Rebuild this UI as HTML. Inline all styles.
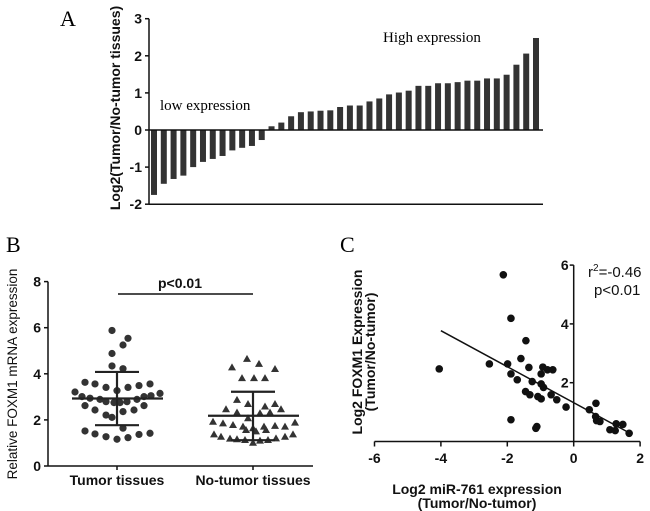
<!DOCTYPE html>
<html><head><meta charset="utf-8"><style>
html,body{margin:0;padding:0;background:#fff;}
svg{display:block;font-family:"Liberation Sans",Arial,sans-serif;}
.tk{font-weight:bold;font-size:14px;fill:#111;}
</style></head><body>
<svg id="fig" width="650" height="511" viewBox="0 0 650 511" xmlns="http://www.w3.org/2000/svg">
<g id="pa"></g>
<g id="pb"></g>
<g id="pc"></g>
</svg>
<script>
// Panel A data
const aValues=[-1.75,-1.45,-1.32,-1.23,-1.0,-0.86,-0.78,-0.7,-0.55,-0.48,-0.43,-0.27,0.1,0.2,0.37,0.48,0.5,0.52,0.53,0.62,0.66,0.66,0.77,0.85,0.96,1.01,1.06,1.19,1.19,1.26,1.26,1.29,1.33,1.33,1.39,1.39,1.49,1.76,2.06,2.48];
const aTicks=[3,2,1,0,-1,-2];
// Panel B data
const tumorVals=[5.88,5.54,5.25,4.88,4.34,4.22,3.63,3.56,3.41,3.27,3.41,3.49,3.56,3.21,3.15,3.01,2.94,2.89,2.79,2.75,2.75,2.79,2.89,3.01,3.05,2.62,2.43,2.21,2.11,2.36,2.43,2.62,1.52,1.39,1.27,1.16,1.23,1.37,1.42,1.64];
const tumorJitter=[-5,11,6,-5,-5,6,-32,-22,-11,0,11,22,33,-42,43,-35,-27,-17,-11,-3,3,10,20,27,34,-32,-22,-11,-5,6,17,27,-32,-22,-11,0,11,22,33,6];
const normVals=[4.65,4.43,4.28,4.21,3.81,3.81,3.81,2.46,2.87,2.69,2.58,2.69,2.46,2.32,2.07,2.29,2.32,1.92,1.85,1.78,1.71,1.64,1.71,1.74,1.71,1.88,1.37,1.27,1.19,1.16,1.13,1.01,1.10,1.13,1.2,1.27,1.37,1.5,1.56,1.56];
const normJitter=[-6,6,-21,22,-11,1,12,-27,-16,-5,12,22,28,-16,-5,7,17,-40,-30,-20,-10,0,11,22,32,42,-39,-32,-23,-16,-8,0,7,15,23,32,40,3,-7,13];
const bStats={tumorMean:2.93,tumorHi:4.08,tumorLo:1.77,normMean:2.18,normHi:3.22,normLo:1.12};
const bTicks=[0,2,4,6,8];
const bCats=["Tumor tissues","No-tumor tissues"];
// Panel C data
const cX=[-2.12,-1.89,-1.44,-1.59,-1.35,-4.05,-2.54,-1.99,-1.89,-1.70,-1.25,-0.93,-0.79,-0.63,-0.98,-0.98,-0.91,-1.45,-1.32,-1.08,-0.98,-0.68,-0.51,-0.23,-1.89,-1.11,-1.14,0.47,0.67,0.66,0.69,0.79,1.09,1.25,1.28,1.48,1.67];
const cY=[5.67,4.19,3.43,2.82,2.52,2.47,2.64,2.64,2.30,2.10,2.04,2.53,2.44,2.44,2.30,1.96,1.84,1.70,1.59,1.53,1.45,1.59,1.42,1.17,0.74,0.51,0.45,1.08,1.30,0.85,0.71,0.68,0.40,0.37,0.60,0.58,0.28];
const cFit={slope:-0.6125,intercept:1.32,x0:-4,x1:1.6};
const cXTicks=[-6,-4,-2,0,2];
const cYTicks=[2,4,6];

const NS="http://www.w3.org/2000/svg";
function mk(p,tag,at,txt){const e=document.createElementNS(NS,tag);for(const k in at)e.setAttribute(k,at[k]);if(txt!==undefined)e.textContent=txt;p.appendChild(e);return e;}

// ---------- Panel A
const pa=document.getElementById('pa');
const ay=v=>130-v*37.1;
const axL=149, axR=543;
const bx=i=>154+i*(536-154)/(aValues.length-1);
let t=mk(pa,'text',{x:60,y:26,'font-family':'Liberation Serif,serif','font-size':22},'A');

let l=mk(pa,'line',{x1:axL,y1:ay(3),x2:axL,y2:ay(-2),stroke:'#111','stroke-width':1.5});

aTicks.forEach(v=>{mk(pa,'line',{x1:axL-4,y1:ay(v),x2:axL,y2:ay(v),stroke:'#111','stroke-width':1.5});
 const tt=mk(pa,'text',{x:axL-7,y:ay(v)+5,'text-anchor':'end',class:'tk'},v);
 });
aValues.forEach((v,i)=>{const r=mk(pa,'rect',{x:bx(i)-3,y:Math.min(ay(v),ay(0)),width:6,height:Math.abs(ay(v)-ay(0)),fill:'#333'});
 });
l=mk(pa,'line',{x1:axL,y1:ay(0),x2:axR,y2:ay(0),stroke:'#111','stroke-width':1.5});

l=mk(pa,'line',{x1:axL,y1:ay(-2),x2:axR,y2:ay(-2),stroke:'#111','stroke-width':1.5});

t=mk(pa,'text',{x:0,y:0,transform:'translate(120,108) rotate(-90)','text-anchor':'middle',class:'tk','font-size':14.5},'Log2(Tumor/No-tumor tissues)');

t=mk(pa,'text',{x:160,y:110,'font-family':'Liberation Serif,serif','font-size':15},'low expression');

t=mk(pa,'text',{x:383,y:42,'font-family':'Liberation Serif,serif','font-size':15},'High expression');


// ---------- Panel B
const pb=document.getElementById('pb');
const by=v=>466-v*23.05;
const bL=48,bR=313,c1=117,c2=253;
t=mk(pb,'text',{x:6,y:252,'font-family':'Liberation Serif,serif','font-size':22},'B');

mk(pb,'line',{x1:bL,y1:by(8),x2:bL,y2:by(0),stroke:'#111','stroke-width':1.5});
mk(pb,'line',{x1:bL,y1:by(0),x2:bR,y2:by(0),stroke:'#111','stroke-width':1.5});
bTicks.forEach(v=>{mk(pb,'line',{x1:bL-4,y1:by(v),x2:bL,y2:by(v),stroke:'#111','stroke-width':1.5});
 const tt=mk(pb,'text',{x:bL-7,y:by(v)+5,'text-anchor':'end',class:'tk'},v);
 });
[c1,c2].forEach((c,i)=>{mk(pb,'line',{x1:c,y1:by(0),x2:c,y2:by(0)+4,stroke:'#111','stroke-width':1.5});
 const tt=mk(pb,'text',{x:c,y:485,'text-anchor':'middle',class:'tk'},bCats[i]);
 });
t=mk(pb,'text',{x:0,y:0,transform:'translate(17,374) rotate(-90)','text-anchor':'middle','font-size':13.5,fill:'#111'},'Relative FOXM1 mRNA expression');

tumorVals.forEach((v,i)=>{const c=mk(pb,'circle',{cx:c1+tumorJitter[i],cy:by(v),r:3.6,fill:'#333'});
 });
normVals.forEach((v,i)=>{const x=c2+normJitter[i],y=by(v);
 const p=mk(pb,'polygon',{points:`${x},${y-4} ${x-4},${y+3} ${x+4},${y+3}`,fill:'#333'});
 });
function err(c,m,hi,lo,name){const g=mk(pb,'g',{stroke:'#222','stroke-width':2.2});
 
 mk(g,'line',{x1:c,y1:by(hi),x2:c,y2:by(lo)});
 mk(g,'line',{x1:c-45,y1:by(m),x2:c+46,y2:by(m)});
 mk(g,'line',{x1:c-22,y1:by(hi),x2:c+22,y2:by(hi)});
 mk(g,'line',{x1:c-22,y1:by(lo),x2:c+22,y2:by(lo)});}
err(c1,bStats.tumorMean,bStats.tumorHi,bStats.tumorLo,'tumor-mean-sd');
err(c2,bStats.normMean,bStats.normHi,bStats.normLo,'no-tumor-mean-sd');
l=mk(pb,'line',{x1:c1+1,y1:294,x2:c2,y2:294,stroke:'#111','stroke-width':1.5});

t=mk(pb,'text',{x:180,y:288,'text-anchor':'middle',class:'tk','font-size':14},'p<0.01');


// ---------- Panel C
const pc=document.getElementById('pc');
const cx=v=>573.7+v*33.2, cy=v=>441.5-v*29.4;
t=mk(pc,'text',{x:340,y:252,'font-family':'Liberation Serif,serif','font-size':22},'C');

mk(pc,'line',{x1:cx(-6),y1:cy(0),x2:cx(2),y2:cy(0),stroke:'#111','stroke-width':1.5});
mk(pc,'line',{x1:cx(0),y1:cy(6),x2:cx(0),y2:cy(0),stroke:'#111','stroke-width':1.5});
cXTicks.forEach(v=>{mk(pc,'line',{x1:cx(v),y1:cy(0),x2:cx(v),y2:cy(0)+5,stroke:'#111','stroke-width':1.5});
 const tt=mk(pc,'text',{x:cx(v),y:463,'text-anchor':'middle',class:'tk'},v);
 });
cYTicks.forEach(v=>{mk(pc,'line',{x1:cx(0)-4,y1:cy(v),x2:cx(0),y2:cy(v),stroke:'#111','stroke-width':1.5});
 const tt=mk(pc,'text',{x:cx(0)-5,y:cy(v)+5,'text-anchor':'end',class:'tk'},v);
 });
cX.forEach((v,i)=>{const c=mk(pc,'circle',{cx:cx(v),cy:cy(cY[i]),r:3.8,fill:'#111'});
 });
l=mk(pc,'line',{x1:cx(cFit.x0),y1:cy(cFit.intercept+cFit.slope*cFit.x0),x2:cx(cFit.x1),y2:cy(cFit.intercept+cFit.slope*cFit.x1),stroke:'#111','stroke-width':1.5});

t=mk(pc,'text',{x:0,y:0,transform:'translate(362,352) rotate(-90)','text-anchor':'middle',class:'tk','font-size':11.5},'Log2 FOXM1 Expression');

t=mk(pc,'text',{x:0,y:0,transform:'translate(375,352) rotate(-90)','text-anchor':'middle',class:'tk','font-size':11.5},'(Tumor/No-tumor)');

t=mk(pc,'text',{x:477,y:494,'text-anchor':'middle',class:'tk','font-size':12.5},'Log2 miR-761 expression');

t=mk(pc,'text',{x:477,y:508,'text-anchor':'middle',class:'tk','font-size':12.5},'(Tumor/No-tumor)');

t=mk(pc,'text',{x:588,y:277,'font-size':15,fill:'#111'});

t.innerHTML='r<tspan dy="-6" font-size="10">2</tspan><tspan dy="6">=-0.46</tspan>';
t=mk(pc,'text',{x:594,y:295,'font-size':15,fill:'#111'},'p<0.01');

</script>
</body></html>
